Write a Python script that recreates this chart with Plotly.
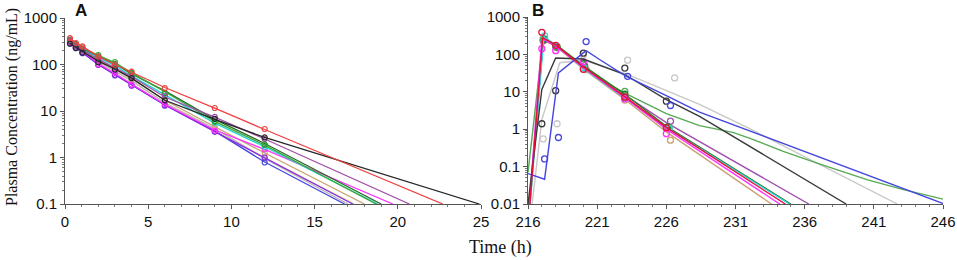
import plotly.graph_objects as go

# ---------------- Panel A data (time in h, concentration ng/mL) ----------------
A_TIMES = [0.3, 0.65, 1.05, 2, 3, 4, 6, 9, 12]
A_END_VALUE = 0.1

A_red_pred = [355, 295, 240, 150, 100, 68, 32, 11.5, 4.0]
A_red_obs = [370, 290, 245, 148, 98, 70, 31, 11.6, 4.1]
A_red_end = 22.7

A_green_pred = [335, 275, 228, 158, 110, 66, 26, 6.0, 1.85]
A_green_obs = [345, 270, 232, 160, 113, 66, 25, 5.9, 1.86]
A_green_end = 18.7

A_dgreen_pred = [325, 268, 222, 152, 104, 63, 27, 6.6, 2.0]
A_dgreen_obs = [320, 272, 218, 150, 102, 64, 24, 6.0, 1.9]
A_dgreen_end = 19.0

A_black_pred = [285, 235, 190, 118, 80, 51, 17, 6.6, 2.7]
A_black_obs = [280, 225, 180, 112, 78, 51, 17, 6.8, 2.7]
A_black_end = 24.9

A_purple_pred = [315, 258, 208, 130, 86, 55, 20, 7.4, 2.5]
A_purple_obs = [330, 250, 210, 128, 88, 54, 21, 7.5, 2.5]
A_purple_end = 20.7

A_cyan_pred = [328, 265, 214, 140, 95, 57, 22, 5.5, 1.7]
A_cyan_obs = [335, 270, 210, 138, 100, 52, 23, 5.6, 1.7]
A_cyan_end = 18.8

A_magenta_pred = [300, 245, 195, 105, 65, 38, 14, 3.9, 1.5]
A_magenta_obs = [305, 250, 190, 100, 66, 37, 14, 3.8, 1.5]
A_magenta_end = 19.7

A_tan_pred = [310, 250, 200, 124, 80, 50, 17, 4.6, 1.25]
A_tan_obs = [300, 255, 205, 120, 78, 48, 16, 4.6, 1.26]
A_tan_end = 18.0

A_gray_pred = [290, 240, 190, 115, 72, 45, 15, 4.2, 0.95]
A_gray_obs = [285, 245, 188, 118, 70, 44, 15, 4.3, 0.95]
A_gray_end = 17.0

A_blue_pred = [280, 230, 180, 100, 62, 37, 13.5, 3.7, 0.8]
A_blue_obs = [285, 225, 175, 98, 60, 36, 13.5, 3.6, 0.78]
A_blue_end = 16.8

A_yellow_pred = [300, 240, 195, 115, 72, 44, 15, 4.0, 1.0]
A_yellow_obs = [295, 245, 190, 112, 74, 43, 15, 4.1, 1.0]
A_yellow_end = 17.4

A_violet_pred = [290, 235, 185, 100, 60, 36, 13.5, 3.6, 1.0]
A_violet_obs = [295, 230, 182, 98, 58, 35, 13.0, 3.6, 1.0]
A_violet_end = 17.3

# ---------------- Panel B data ----------------
B_red_t = [216.14, 217.05, 218, 220, 223, 226, 234.6]
B_red_y = [0.01, 280, 180, 46, 7.4, 1.12, 0.01]
B_red_obs_t = [217.0, 218.0, 220.0, 223.0, 226.0]
B_red_obs_y = [390, 175, 40, 7.2, 1.1]

B_magenta_t = [216.1, 217.0, 218, 220, 223, 226, 234.2]
B_magenta_y = [0.01, 265, 172, 44, 7.0, 1.0, 0.01]
B_magenta_obs_t = [217.0, 218.0, 220.0, 223.0, 226.0]
B_magenta_obs_y = [142, 126, 63, 6.5, 0.76]

B_cyan_t = [216.15, 217.15, 218, 220, 223, 226, 234.9]
B_cyan_y = [0.01, 300, 178, 42, 6.8, 1.1, 0.01]
B_cyan_obs_t = [217.2, 218.0, 220.0, 223.0, 226.2]
B_cyan_obs_y = [310, 170, 44, 6.8, 1.05]

B_tan_t = [216.15, 217.1, 218, 220, 223, 226, 233.6]
B_tan_y = [0.01, 250, 165, 41, 6.2, 0.85, 0.01]
B_tan_obs_t = [217.1, 218.1, 220.2, 223.0, 226.3]
B_tan_obs_y = [240, 150, 39, 6.0, 0.51]

B_purple_t = [216.1, 217.1, 218, 220, 223, 226, 236.3]
B_purple_y = [0.01, 245, 168, 47, 8.2, 1.5, 0.01]
B_purple_obs_t = [217.1, 218.0, 220.1, 223.0, 226.3]
B_purple_obs_y = [230, 160, 50, 7.8, 1.64]

B_dgreen_t = [216.1, 217.1, 218, 220, 223, 226, 235.0]
B_dgreen_y = [0.01, 270, 185, 50, 8.6, 1.2, 0.01]
B_dgreen_obs_t = [217.2, 218.1, 220.0, 223.0, 226.1]
B_dgreen_obs_y = [255, 160, 58, 8.6, 1.15]

B_green_t = [216.0, 217.1, 218, 220, 221.2, 223, 226, 228.4, 230.8, 232.1, 234.4, 237, 240.5, 243, 246]
B_green_y = [0.07, 265, 182, 46, 22, 9.2, 2.6, 1.25, 0.82, 0.56, 0.26, 0.12, 0.045, 0.025, 0.0135]
B_green_obs_t = [217.1, 218.0, 220.0, 223.0, 226.2]
B_green_obs_y = [260, 172, 55, 10.3, 1.1]

B_black_t = [216.0, 217.0, 218, 220, 223, 226, 228.4, 239.0]
B_black_y = [0.01, 11.5, 80, 75, 29, 6.2, 2.2, 0.01]
B_black_obs_t = [217.0, 218.0, 220.0, 223.0, 226.0]
B_black_obs_y = [1.4, 10.7, 108, 43, 5.6]

B_gray_t = [216.3, 217.0, 218.3, 220, 221.2, 223.1, 228.4, 232.1, 242.7]
B_gray_y = [0.01, 1.8, 60, 70, 50, 30, 4.6, 1.0, 0.01]
B_gray_obs_t = [217.1, 218.1, 220.0, 223.2, 226.6]
B_gray_obs_y = [0.55, 1.4, 95, 70, 23.5]

B_blue_t = [216.0, 217.2, 218.2, 220.2, 221.2, 223.1, 226, 228.4, 246.1]
B_blue_y = [0.065, 0.046, 32, 126, 72, 26, 7.9, 2.85, 0.01]
B_blue_obs_t = [217.2, 218.2, 220.2, 223.2, 226.3]
B_blue_obs_y = [0.16, 0.6, 220, 26, 4.3]

A_TICKS_X = [0, 5, 10, 15, 20, 25]
B_TICKS_X = [216, 221, 226, 231, 236, 241, 246]
A_TICKS_Y = [0.1, 1, 10, 100, 1000]
B_TICKS_Y = [0.01, 0.1, 1, 10, 100, 1000]

COL = {
    "red": "#ee4040", "green": "#3aa83a", "dgreen": "#2a6a2a", "black": "#262626",
    "purple": "#a050a8", "cyan": "#22d4d4", "magenta": "#ff33ff", "tan": "#c9a273",
    "gray": "#b8b8b8", "blue": "#4646e0", "yellow": "#eee08a", "violet": "#8a2be2",
}
COLB = {
    "red": "#e8103a", "magenta": "#ff33ff", "cyan": "#30d8e0", "tan": "#c9a273",
    "purple": "#a050b0", "dgreen": "#257a25", "green": "#55aa55", "black": "#3a3a3a",
    "gray": "#c8c8c8", "blue": "#4545e0",
}

fig = go.Figure()

A_subjects = [
    ("yellow", A_yellow_pred, A_yellow_obs, A_yellow_end),
    ("gray", A_gray_pred, A_gray_obs, A_gray_end),
    ("tan", A_tan_pred, A_tan_obs, A_tan_end),
    ("blue", A_blue_pred, A_blue_obs, A_blue_end),
    ("violet", A_violet_pred, A_violet_obs, A_violet_end),
    ("magenta", A_magenta_pred, A_magenta_obs, A_magenta_end),
    ("cyan", A_cyan_pred, A_cyan_obs, A_cyan_end),
    ("dgreen", A_dgreen_pred, A_dgreen_obs, A_dgreen_end),
    ("green", A_green_pred, A_green_obs, A_green_end),
    ("purple", A_purple_pred, A_purple_obs, A_purple_end),
    ("black", A_black_pred, A_black_obs, A_black_end),
    ("red", A_red_pred, A_red_obs, A_red_end),
]
for name, pred, obs, end in A_subjects:
    c = COL[name]
    fig.add_trace(go.Scatter(x=A_TIMES + [end], y=pred + [A_END_VALUE], mode="lines",
                             line=dict(color=c, width=1.3), xaxis="x", yaxis="y",
                             hoverinfo="skip"))
    fig.add_trace(go.Scatter(x=A_TIMES, y=obs, mode="markers",
                             marker=dict(symbol="circle-open", size=5, color=c, line=dict(width=1.2)),
                             xaxis="x", yaxis="y", cliponaxis=False))

B_subjects = [
    ("gray", B_gray_t, B_gray_y, B_gray_obs_t, B_gray_obs_y),
    ("tan", B_tan_t, B_tan_y, B_tan_obs_t, B_tan_obs_y),
    ("purple", B_purple_t, B_purple_y, B_purple_obs_t, B_purple_obs_y),
    ("green", B_green_t, B_green_y, B_green_obs_t, B_green_obs_y),
    ("dgreen", B_dgreen_t, B_dgreen_y, B_dgreen_obs_t, B_dgreen_obs_y),
    ("cyan", B_cyan_t, B_cyan_y, B_cyan_obs_t, B_cyan_obs_y),
    ("magenta", B_magenta_t, B_magenta_y, B_magenta_obs_t, B_magenta_obs_y),
    ("black", B_black_t, B_black_y, B_black_obs_t, B_black_obs_y),
    ("blue", B_blue_t, B_blue_y, B_blue_obs_t, B_blue_obs_y),
    ("red", B_red_t, B_red_y, B_red_obs_t, B_red_obs_y),
]
for name, lt, ly, ot, oy in B_subjects:
    c = COLB[name]
    fig.add_trace(go.Scatter(x=lt, y=ly, mode="lines", line=dict(color=c, width=1.4),
                             xaxis="x2", yaxis="y2", hoverinfo="skip"))
    fig.add_trace(go.Scatter(x=ot, y=oy, mode="markers",
                             marker=dict(symbol="circle-open", size=6, color=c, line=dict(width=1.3)),
                             xaxis="x2", yaxis="y2"))

W, H = 957, 260
px_x = lambda p: p / W
px_y = lambda p: 1 - p / H

tickfont = dict(family="Liberation Sans, Arial, sans-serif", size=15, color="#111")
axis_common = dict(showline=True, linecolor="#555", linewidth=1, ticks="outside", ticklen=4,
                   tickcolor="#555", showgrid=False, zeroline=False, tickfont=tickfont,
                   mirror=False, automargin=False)

minor_log = dict(ticks="outside", ticklen=2, tickcolor="#777", showgrid=False,
                 tickvals=[m * 10 ** e for e in range(-3, 4) for m in range(2, 10)])
minor_lin = dict(ticks="outside", ticklen=2, tickcolor="#777", showgrid=False, dtick=1)

ann_font_serif = "Liberation Serif, Times New Roman, serif"
fig.update_layout(
    width=W, height=H, margin=dict(l=0, r=0, t=0, b=0, autoexpand=False),
    paper_bgcolor="white", plot_bgcolor="white", showlegend=False,
    xaxis=dict(domain=[px_x(65), px_x(481)], range=[0, 25], tickvals=A_TICKS_X,
               minor=minor_lin, anchor="y", **axis_common),
    yaxis=dict(domain=[px_y(204), px_y(18)], type="log", range=[-1, 3], tickvals=A_TICKS_Y,
               ticktext=[str(v) for v in A_TICKS_Y], minor=minor_log, anchor="x", **axis_common),
    xaxis2=dict(domain=[px_x(528), px_x(943)], range=[216, 246], tickvals=B_TICKS_X,
                minor=minor_lin, anchor="y2", **axis_common),
    yaxis2=dict(domain=[px_y(204), px_y(17)], type="log", range=[-2, 3], tickvals=B_TICKS_Y,
                ticktext=[str(v) for v in B_TICKS_Y], minor=minor_log, anchor="x2", **axis_common),
    annotations=[
        dict(text="<b>A</b>", x=px_x(81), y=px_y(11), xref="paper", yref="paper",
             xanchor="center", yanchor="middle", showarrow=False,
             font=dict(family="Liberation Sans, Arial", size=17, color="#111")),
        dict(text="<b>B</b>", x=px_x(538), y=px_y(11), xref="paper", yref="paper",
             xanchor="center", yanchor="middle", showarrow=False,
             font=dict(family="Liberation Sans, Arial", size=17, color="#111")),
        dict(text="Plasma Concentration (ng/mL)", x=px_x(12), y=px_y(107), xref="paper", yref="paper",
             xanchor="center", yanchor="middle", showarrow=False, textangle=-90,
             font=dict(family=ann_font_serif, size=16, color="#111")),
        dict(text="Time (h)", x=px_x(500), y=px_y(247), xref="paper", yref="paper",
             xanchor="center", yanchor="middle", showarrow=False,
             font=dict(family=ann_font_serif, size=18, color="#111")),
    ],
)

# remove the browser's default 8px body margin so the figure fills the window exactly
fig.write_html("out.html", config={"displayModeBar": False},
               post_script="document.body.style.margin='0';")
